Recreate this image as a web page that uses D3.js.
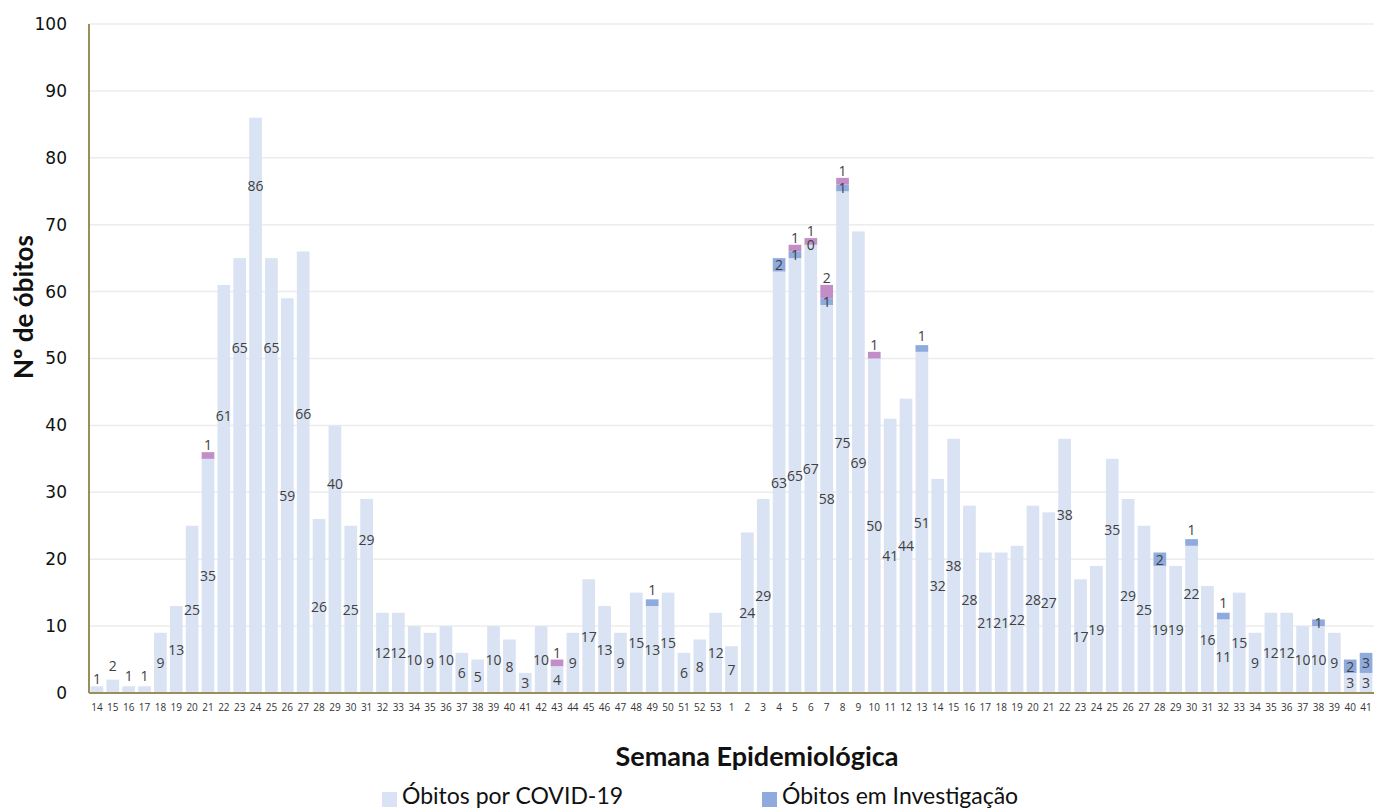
<!DOCTYPE html>
<html>
<head>
<meta charset="utf-8">
<script src="https://cdn.jsdelivr.net/npm/d3@7/dist/d3.min.js"></script>
<style>
  body { margin: 0; background: #fff; }
  text { font-family: "Open Sans", sans-serif; }
</style>
</head>
<body>
<div id="chart"></div>
<script>
// semanas epidemiológicas: 2020 (14..53) e 2021 (1..41)
var weeks2020 = d3.range(14, 54);
var weeks2021 = d3.range(1, 42);

var covid2020 = [1,2,1,1,9,13,25,35,61,65,86,65,59,66,26,40,25,29,12,12,10,9,10,6,5,10,8,3,10,4,9,17,13,9,15,13,15,6,8,12];
var covid2021 = [7,24,29,63,65,67,58,75,69,50,41,44,51,32,38,28,21,21,22,28,27,38,17,19,35,29,25,19,19,22,16,11,15,9,12,12,10,10,9,3,3];

// óbitos em investigação, por semana
var invest2020 = {49: 1};
var invest2021 = {4: 2, 5: 1, 6: 0, 7: 1, 8: 1, 13: 1, 28: 2, 30: 1, 32: 1, 38: 1, 40: 2, 41: 3};

// terceira série (rosa), sem legenda
var other2020 = {21: 1, 43: 1};
var other2021 = {5: 1, 6: 1, 7: 2, 8: 1, 10: 1};

// rótulos que no original não estão centrados (valor no eixo y)
var covidLabelAt2020 = {14: 2.2, 15: 4.1, 16: 2.6, 17: 2.6, 22: 41.5, 23: 51.6, 24: 75.8, 25: 51.6, 27: 41.8, 29: 31.3, 31: 22.9};
var covidLabelAt2021 = {22: 26.7, 25: 24.5, 30: 14.8};
var investAbove = ["2020-49", "2021-13", "2021-30", "2021-32"];

var yTicks = d3.range(0, 101, 10);

var data = [];
weeks2020.forEach(function(w, i) {
  data.push({key: "2020-" + w, week: w, covid: covid2020[i],
    invest: invest2020[w], other: other2020[w], labelAt: covidLabelAt2020[w]});
});
weeks2021.forEach(function(w, i) {
  data.push({key: "2021-" + w, week: w, covid: covid2021[i],
    invest: invest2021[w], other: other2021[w], labelAt: covidLabelAt2021[w]});
});

var W = 1374, H = 808;
var x0 = 89, x1 = 1374, yTop = 24, yBot = 693;

var svg = d3.select("#chart").append("svg")
    .attr("width", W)
    .attr("height", H);

var x = d3.scaleBand()
    .domain(data.map(function(d) { return d.key; }))
    .range([x0, x1])
    .paddingInner(0.2)
    .paddingOuter(0.1);

var y = d3.scaleLinear().domain([0, 100]).range([yBot, yTop]);

// grade
svg.append("g").selectAll("line")
    .data(yTicks.slice(1))
  .enter().append("line")
    .attr("x1", x0).attr("x2", x1)
    .attr("y1", function(d) { return y(d); })
    .attr("y2", function(d) { return y(d); })
    .attr("stroke", "#ececec")
    .attr("stroke-width", 1.5);

var cLight = "#dae3f3", cInv = "#8faadc", cOther = "#c38ec7";
var labelColor = "#404040";

// barras
svg.append("g").selectAll("rect")
    .data(data)
  .enter().append("rect")
    .attr("x", function(d) { return x(d.key); })
    .attr("width", x.bandwidth())
    .attr("y", function(d) { return y(d.covid); })
    .attr("height", function(d) { return y(0) - y(d.covid); })
    .attr("fill", cLight);

var inv = data.filter(function(d) { return d.invest != null; });
svg.append("g").selectAll("rect")
    .data(inv)
  .enter().append("rect")
    .attr("x", function(d) { return x(d.key); })
    .attr("width", x.bandwidth())
    .attr("y", function(d) { return y(d.covid + d.invest); })
    .attr("height", function(d) { return y(d.covid) - y(d.covid + d.invest); })
    .attr("fill", cInv);

var oth = data.filter(function(d) { return d.other != null; });
svg.append("g").selectAll("rect")
    .data(oth)
  .enter().append("rect")
    .attr("x", function(d) { return x(d.key); })
    .attr("width", x.bandwidth())
    .attr("y", function(d) { return y(d.covid + (d.invest || 0) + d.other); })
    .attr("height", function(d) {
      var b = d.covid + (d.invest || 0);
      return y(b) - y(b + d.other);
    })
    .attr("fill", cOther);

// rótulos
var lbl = svg.append("g")
    .style("font-size", "14px")
    .attr("fill", labelColor)
    .attr("text-anchor", "middle")
    .attr("dominant-baseline", "central");

lbl.selectAll("text.c")
    .data(data)
  .enter().append("text")
    .attr("class", "c")
    .attr("x", function(d) { return x(d.key) + x.bandwidth() / 2; })
    .attr("y", function(d) { return y(d.labelAt != null ? d.labelAt : d.covid / 2); })
    .text(function(d) { return d.covid; });

lbl.selectAll("text.i")
    .data(inv)
  .enter().append("text")
    .attr("class", "i")
    .attr("x", function(d) { return x(d.key) + x.bandwidth() / 2; })
    .attr("y", function(d) {
      if (investAbove.indexOf(d.key) >= 0) return y(d.covid + d.invest + 1.5);
      return y(d.covid + d.invest / 2);
    })
    .text(function(d) { return d.invest; });

lbl.selectAll("text.o")
    .data(oth)
  .enter().append("text")
    .attr("class", "o")
    .attr("x", function(d) { return x(d.key) + x.bandwidth() / 2; })
    .attr("y", function(d) { return y(d.covid + (d.invest || 0) + d.other + 1.1); })
    .text(function(d) { return d.other; });

// eixos
var yAxis = svg.append("g")
    .attr("transform", "translate(" + x0 + ",0)")
    .call(d3.axisLeft(y).tickValues(yTicks).tickSize(0).tickPadding(22));
yAxis.select(".domain").remove();
yAxis.selectAll("text")
    .style("font-family", "'DejaVu Sans', sans-serif")
    .style("font-size", "17px")
    .attr("fill", "#111");

var xAxis = svg.append("g")
    .attr("transform", "translate(0," + (yBot + 8) + ")")
    .call(d3.axisBottom(x).tickSize(0).tickFormat(function(k) { return k.split("-")[1]; }));
xAxis.select(".domain").remove();
xAxis.selectAll("text")
    .style("font-size", "10px")
    .attr("fill", "#333");

svg.append("line")
    .attr("x1", x0).attr("x2", x0)
    .attr("y1", yTop).attr("y2", yBot)
    .attr("stroke", "#9c8e5a").attr("stroke-width", 2);
svg.append("line")
    .attr("x1", x0).attr("x2", x1)
    .attr("y1", yBot).attr("y2", yBot)
    .attr("stroke", "#9c8e5a").attr("stroke-width", 2);

// títulos
svg.append("text")
    .attr("x", 757).attr("y", 766)
    .attr("text-anchor", "middle")
    .style("font-family", "Lato, sans-serif")
    .style("font-weight", "bold")
    .style("font-size", "27px")
    .attr("fill", "#111")
    .text("Semana Epidemiológica");

svg.append("text")
    .attr("transform", "translate(33,307) rotate(-90)")
    .attr("text-anchor", "middle")
    .style("font-family", "Lato, sans-serif")
    .style("font-weight", "bold")
    .style("font-size", "26px")
    .attr("fill", "#111")
    .text("Nº de óbitos");

// legenda
var legend = [
  {name: "Óbitos por COVID-19", color: cLight, x: 382},
  {name: "Óbitos em Investigação", color: cInv, x: 762}
];
var lg = svg.append("g").selectAll("g")
    .data(legend)
  .enter().append("g")
    .attr("transform", function(d) { return "translate(" + d.x + ",792)"; });
lg.append("rect")
    .attr("x", 0).attr("y", 0)
    .attr("width", 15).attr("height", 15)
    .attr("fill", function(d) { return d.color; });
lg.append("text")
    .attr("x", 20).attr("y", 12)
    .style("font-family", "Lato, sans-serif")
    .style("font-size", "23px")
    .attr("fill", "#111")
    .text(function(d) { return d.name; });
</script>
</body>
</html>
